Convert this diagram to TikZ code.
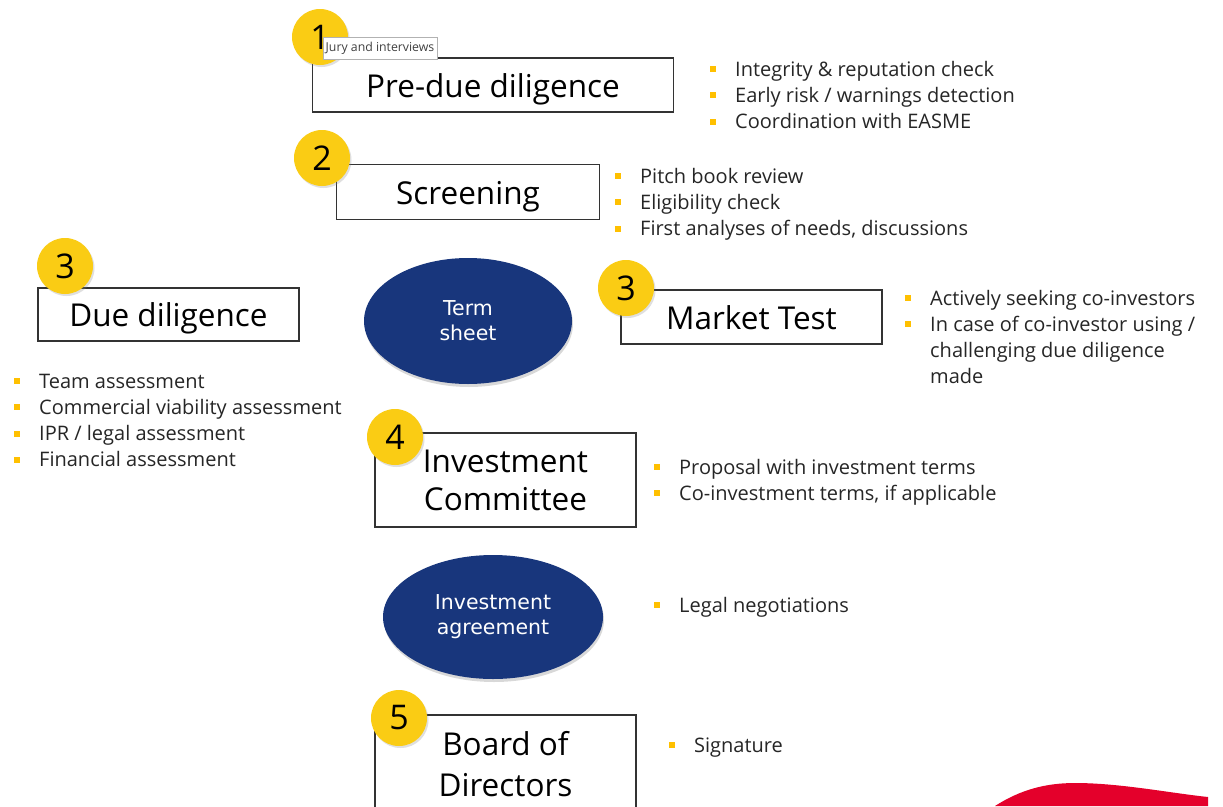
\documentclass[tikz,border=0pt]{standalone}
\usepackage{fontspec}
\setmainfont{Open Sans}
\newfontfamily\ellfont{DejaVu Sans}
\usetikzlibrary{shapes.geometric,shadows}
\definecolor{numY}{RGB}{250,204,20}
\definecolor{bulY}{RGB}{255,192,0}
\definecolor{navy}{RGB}{24,54,124}
\definecolor{redc}{RGB}{228,0,43}
\definecolor{txt}{RGB}{38,38,38}
\newcommand{\bul}{\makebox[25pt][l]{\textcolor{bulY}{\rule[4pt]{6pt}{6pt}}}}
\begin{document}
\begin{tikzpicture}[x=1pt,y=-1pt,
 stagebox/.style={draw=black!80, line width=1.1pt, fill=white, inner sep=0pt,
   font=\fontsize{31.5}{38}\selectfont, align=center, text=black},
 oneline/.style={text height=30pt, text depth=6pt},
 stagetext/.style={inner sep=0pt, font=\fontsize{31.5}{41}\selectfont, align=center, text=black},
 numcirc/.style={circle, fill=numY, minimum size=56pt, inner sep=0pt,
   font=\fontsize{34}{34}\selectfont, text=black,
   drop shadow={opacity=0.25, shadow xshift=1.5pt, shadow yshift=-2pt}},
 bullets/.style={anchor=base west, inner sep=0pt, align=left, text=txt,
   font=\fontsize{20}{26.3}\selectfont},
 navyell/.style={ellipse, fill=navy, inner sep=0pt, text=white, align=center,
   font=\ellfont\fontsize{20.5}{25}\selectfont,
   drop shadow={opacity=0.3, shadow xshift=1pt, shadow yshift=-3pt}},
 tip/.style={draw=black!30, fill=white, inner sep=0pt, text=black!75,
   font=\fontsize{12.3}{12}\selectfont, minimum width=114pt, minimum height=22pt}
]
\useasboundingbox (0,0) rectangle (1223,806);
\clip (0,0) rectangle (1223,806);
\fill[white] (0,0) rectangle (1223,806);

% stage boxes
\node[stagebox, oneline, minimum width=361pt, minimum height=54pt] (pre) at (493,85) {Pre-due diligence};
\node[stagebox, oneline, minimum width=263pt, minimum height=55pt] (scr) at (468,192) {Screening};
\node[stagebox, oneline, minimum width=261pt, minimum height=53pt] (dd) at (168.5,314.5) {Due diligence};
\node[stagebox, oneline, minimum width=261pt, minimum height=54pt] (mt) at (751.5,317) {Market Test};
\node[stagebox, minimum width=261pt, minimum height=94pt] (ic) at (505.5,480) {Investment\\Committee};
\node[stagebox, minimum width=261pt, minimum height=120pt] (board) at (505.5,775) {};
\node[stagetext] (boardtxt) at (505.5,764) {Board of\\Directors};

% ellipses
\node[navyell, minimum width=208pt, minimum height=126pt] (term) at (468,321) {Term\\sheet};
\node[navyell, minimum width=220pt, minimum height=124pt] (agr) at (493,617) {Investment\\agreement};

% number circles
\node[numcirc] (n1) at (320,37) {1};
\node[numcirc] (n2) at (322,158) {2};
\node[numcirc] (n3a) at (65,266) {3};
\node[numcirc] (n3b) at (626,288) {3};
\node[numcirc] (n4) at (395,437) {4};
\node[numcirc] (n5) at (399,718) {5};

% tooltip
\node[tip] (tooltip) at (380,48) {Jury and interviews};

% bullet lists (anchored at the baseline of the last line)
\node[bullets] (lpre) at (710,128.6) {\bul Integrity \& reputation check\\\bul Early risk / warnings detection\\\bul Coordination with EASME};
\node[bullets] (lscr) at (615,235.6) {\bul Pitch book review\\\bul Eligibility check\\\bul First analyses of needs, discussions};
\node[bullets] (lmt) at (905,383.9) {\bul Actively seeking co-investors\\\bul In case of co-investor using /\\\hspace*{25pt}challenging due diligence\\\hspace*{25pt}made};
\node[bullets] (ldd) at (14,466.9) {\bul Team assessment\\\bul Commercial viability assessment\\\bul IPR / legal assessment\\\bul Financial assessment};
\node[bullets] (lic) at (654,500.3) {\bul Proposal with investment terms\\\bul Co-investment terms, if applicable};
\node[bullets] (lagr) at (654,612) {\bul Legal negotiations};
\node[bullets] (lboard) at (669,752) {\bul Signature};

% red decoration
\fill[redc] (995,806) .. controls (1020,790) and (1045,783) .. (1075,783)
  .. controls (1120,783) and (1170,793) .. (1208,797) -- (1208,806) -- cycle;
\end{tikzpicture}
\end{document}
